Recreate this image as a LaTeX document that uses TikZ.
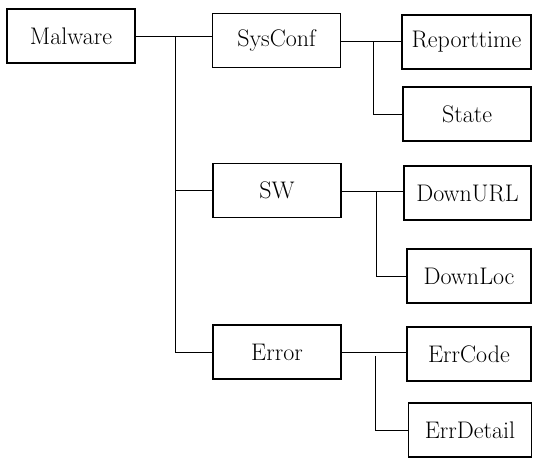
\documentclass[tikz,border=0pt]{standalone}
\usepackage{fontspec}
\usepackage{tikz}
\usetikzlibrary{positioning,calc}

\begin{document}
\begin{tikzpicture}[
    x=1pt, y=-1pt,
    box/.style={rectangle, draw, line width=1.5pt, minimum height=54pt, inner sep=0pt, font=\fontsize{24}{28}\selectfont},
    mid/.style={box, minimum width=128pt},
    leaf/.style={box, minimum width=126pt},
    link/.style={line width=0.8pt}
]
\useasboundingbox (0,0) rectangle (534,459);

% Root
\node[box, minimum width=128pt] (malware) at (71,36) {Malware};

% Second level
\node[mid] (sysconf) at (276.5,40.5) {SysConf};
\node[mid] (sw) at (277,190.5) {SW};
\node[mid] (error) at (277,352) {Error};

% Leaves
\node[leaf, minimum width=129pt] (reporttime) at (466.5,42) {Reporttime};
\node[leaf, minimum width=128pt] (state) at (467,114) {State};
\node[leaf, minimum width=127pt] (downurl) at (467.5,193) {DownURL};
\node[leaf, minimum width=124pt] (downloc) at (469,276) {DownLoc};
\node[leaf, minimum width=124pt] (errcode) at (469,354) {ErrCode};
\node[leaf, minimum width=123pt] (errdetail) at (470,430) {ErrDetail};

% Junction points
\coordinate (trunk) at (175,36);
\coordinate (barA) at (373,41);
\coordinate (barB) at (376,191);
\coordinate (barC) at (375,356);

% Root to second level
\draw[link] (malware.east) -- (malware.east -| sysconf.west);
\draw[link] (trunk) |- (error.west);
\draw[link] (trunk |- sw.west) -- (sw.west);

% SysConf
\draw[link] (sysconf.east |- barA) -- (barA -| reporttime.west);
\draw[link] (barA) |- (state.west);

% SW
\draw[link] (sw.east |- barB) -- (barB -| downurl.west);
\draw[link] (barB) |- (downloc.west);

% Error
\draw[link] (error.east) -- (error.east -| errcode.west);
\draw[link] (barC) |- (errdetail.west);

\end{tikzpicture}
\end{document}
